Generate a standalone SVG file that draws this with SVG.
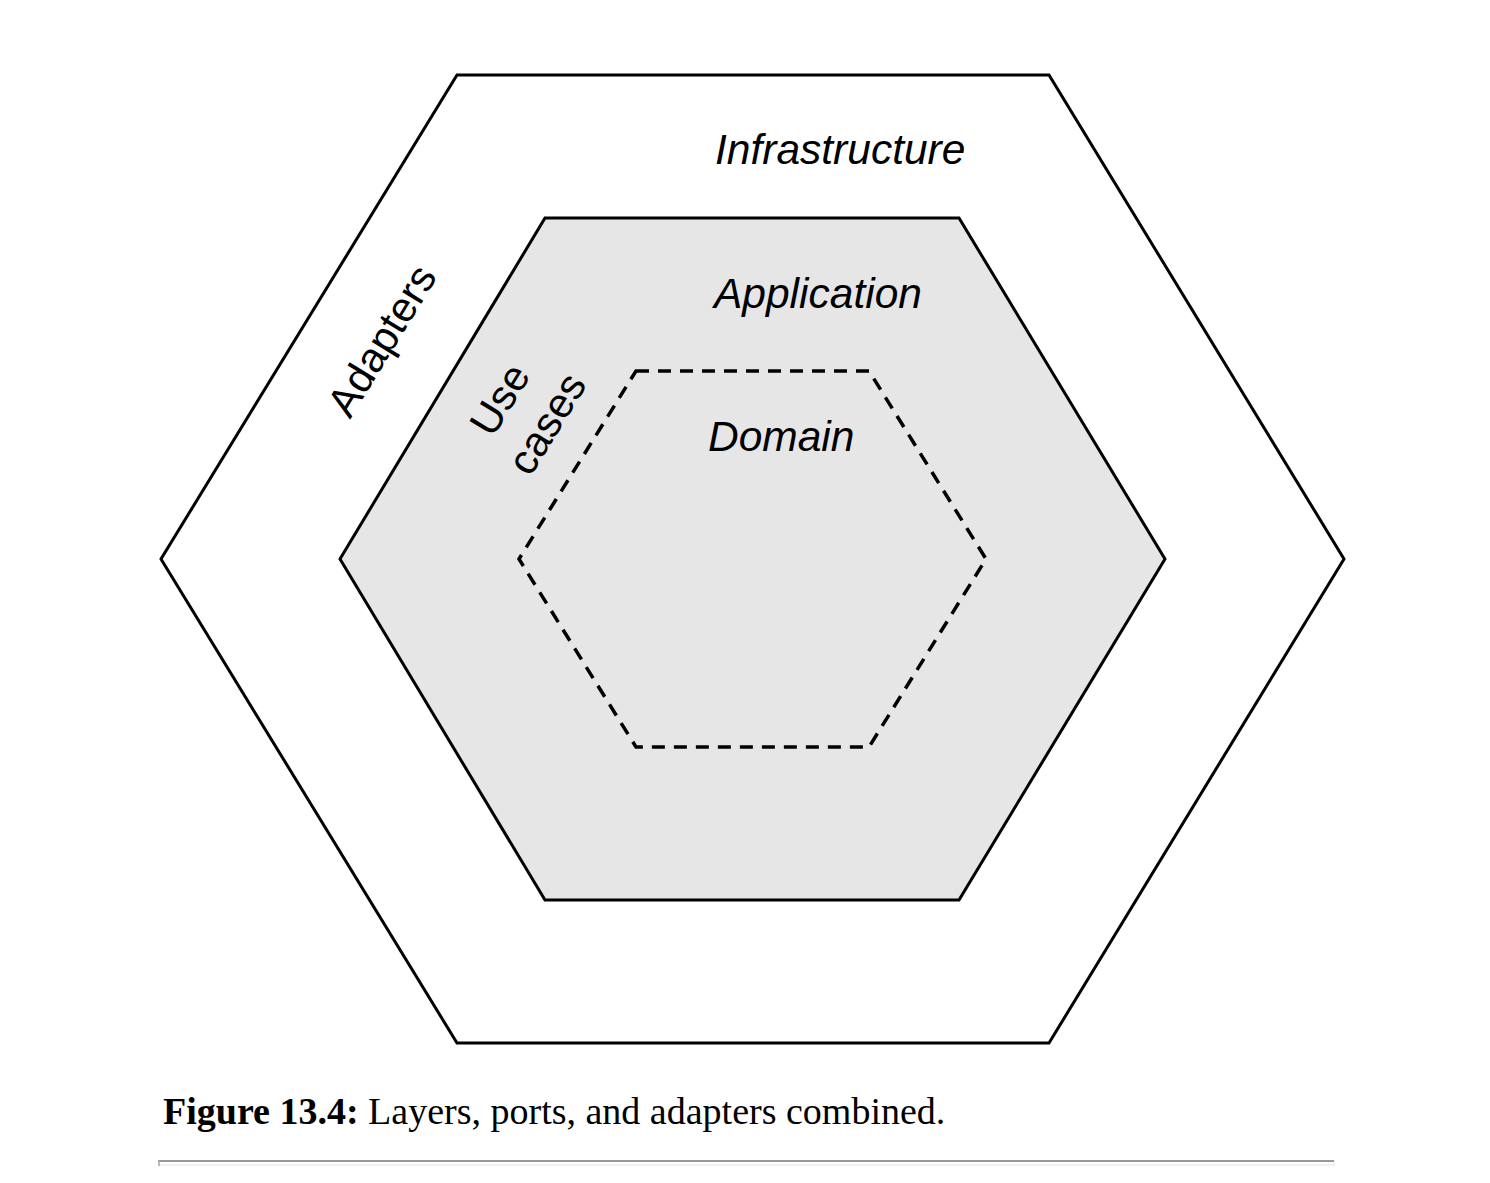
<svg xmlns="http://www.w3.org/2000/svg" width="1490" height="1183" viewBox="0 0 1490 1183">
<style>
.hex{fill:none;stroke:#000;stroke-width:3;stroke-linejoin:miter}
.lbl{font-family:"Liberation Sans",Arial,sans-serif;font-style:italic;font-size:42.5px;fill:#000}
.rot{font-family:"Liberation Sans",Arial,sans-serif;font-size:42px;fill:#000;text-anchor:middle}
.cap{font-family:"Liberation Serif","Times New Roman",serif;font-size:38px;fill:#000}
</style>
<rect width="1490" height="1183" fill="#fff"/>
<g id="infrastructure">
<polygon class="hex" points="457,75 1049,75 1344,559 1049,1043 457,1043 161,559"/>
<text class="lbl" x="715" y="164">Infrastructure</text>
</g>
<g id="adapters">
<text class="rot" transform="translate(394,348) rotate(-58.5)">Adapters</text>
</g>
<g id="application">
<polygon class="hex" points="545,218 959,218 1165,559 959,900 545,900 340,559" style="fill:#e6e6e6"/>
<text class="lbl" x="714" y="308">Application</text>
</g>
<g id="usecases">
<text class="rot" transform="translate(512,407) rotate(-58.5)">Use</text>
<text class="rot" transform="translate(559,431) rotate(-58.5)">cases</text>
</g>
<g id="domain">
<polygon class="hex" points="636,371 869,371 986,559 869,747 636,747 519,559" style="stroke-dasharray:13,9;stroke-width:3.5"/>
<text class="lbl" x="708" y="451">Domain</text>
</g>
<g id="caption">
<text class="cap" x="163" y="1124"><tspan font-weight="bold">Figure 13.4:</tspan> Layers, ports, and adapters combined.</text>
<rect x="159" y="1161" width="1175" height="4" fill="none" stroke="#eeeeee" stroke-width="1.5"/>
<line x1="158" y1="1161" x2="1334" y2="1161" stroke="#999" stroke-width="2"/>
<line x1="159" y1="1160" x2="159" y2="1166" stroke="#aaa" stroke-width="1.5"/>
</g>
</svg>
